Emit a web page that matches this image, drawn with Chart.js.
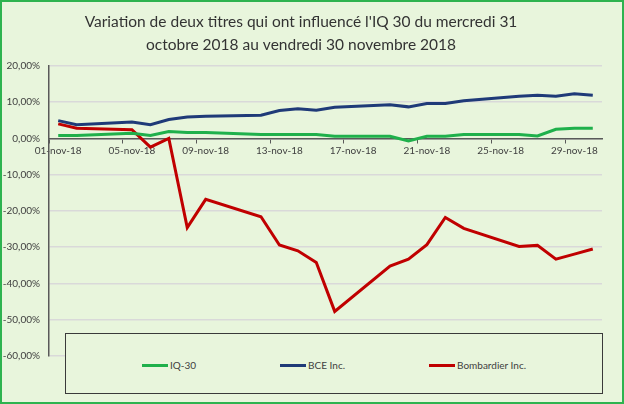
<!DOCTYPE html>
<html>
<head>
<meta charset="utf-8">
<script src="https://cdn.jsdelivr.net/npm/chart.js@4.4.1/dist/chart.umd.min.js"></script>
<style>
  html, body { margin: 0; padding: 0; background: #fff; }
  #wrap { position: relative; width: 624px; height: 404px; background: #e8f5dc; font-family: Lato, "Open Sans", sans-serif; }
  #wrap::after { content: ''; position: absolute; inset: 0; border: 2px solid #2db34f; pointer-events: none; }
  #chart { position: absolute; left: 0; top: 0; }
  #legend { position: absolute; left: 65px; top: 333px; width: 538px; height: 61px; border: 1px solid #3a3a3a;
            background: #e8f5dc; display: flex; justify-content: center; align-items: center; gap: 84px;
            font-size: 10px; color: #404040; padding-top: 3px; box-sizing: border-box; }
  #legend .item { display: flex; align-items: center; }
  #legend .swatch { width: 26px; height: 3px; margin-right: 2px; }
</style>
</head>
<body>
<div id="wrap">
  <canvas id="chart" width="624" height="404"></canvas>
  <div id="legend"></div>
</div>
<script>
// axis days (every calendar day of Nov 2018)
const days = ['01-nov-18','02-nov-18','03-nov-18','04-nov-18','05-nov-18','06-nov-18','07-nov-18','08-nov-18',
  '09-nov-18','10-nov-18','11-nov-18','12-nov-18','13-nov-18','14-nov-18','15-nov-18','16-nov-18','17-nov-18',
  '18-nov-18','19-nov-18','20-nov-18','21-nov-18','22-nov-18','23-nov-18','24-nov-18','25-nov-18','26-nov-18',
  '27-nov-18','28-nov-18','29-nov-18','30-nov-18'];

// trading days with a quote
const tradingDays = ['01-nov-18','02-nov-18','05-nov-18','06-nov-18','07-nov-18','08-nov-18','09-nov-18',
  '12-nov-18','13-nov-18','14-nov-18','15-nov-18','16-nov-18','19-nov-18','20-nov-18','21-nov-18','22-nov-18',
  '23-nov-18','26-nov-18','27-nov-18','28-nov-18','29-nov-18','30-nov-18'];

// variation (%) since 31 oct 2018
const iq30       = [0.8, 0.8, 1.4, 0.8, 1.9, 1.6, 1.6, 1.1, 1.1, 1.1, 1.1, 0.6, 0.6, -0.7, 0.6, 0.6, 1.1, 1.1, 0.7, 2.5, 2.8, 2.8];
const bce        = [4.9, 3.8, 4.5, 3.8, 5.2, 5.9, 6.1, 6.4, 7.7, 8.2, 7.8, 8.6, 9.3, 8.7, 9.6, 9.6, 10.4, 11.6, 11.9, 11.6, 12.3, 11.9];
const bombardier = [4.0, 2.8, 2.4, -2.4, 0.0, -24.6, -16.8, -21.6, -29.4, -31.0, -34.2, -47.7, -35.2, -33.3, -29.3, -21.8, -24.8, -29.8, -29.5, -33.3, -31.9, -30.5];

const yTicksMin = -60, yTicksMax = 20, yStep = 10;

const toPoints = vals => vals.map((v, i) => ({ x: tradingDays[i], y: v }));
const pct = v => v.toFixed(2).replace('.', ',') + '%';

const series = [
  { label: 'IQ-30',           data: iq30,       color: '#1fb04b' },
  { label: 'BCE Inc.',        data: bce,        color: '#1f3a78' },
  { label: 'Bombardier Inc.', data: bombardier, color: '#c00000' },
];

const chart = new Chart(document.getElementById('chart'), {
  type: 'line',
  data: {
    labels: days,
    datasets: series.map(s => ({
      label: s.label, data: toPoints(s.data),
      borderColor: s.color, backgroundColor: s.color,
      borderWidth: 3, pointRadius: 0, tension: 0
    }))
  },
  options: {
    responsive: false, animation: false,
    layout: { padding: { left: 0, right: 22, top: 0, bottom: 48 } },
    plugins: {
      legend: { display: false },
      tooltip: { enabled: false },
      title: {
        display: true,
        text: ["Variation de deux titres qui ont influencé l'IQ 30 du mercredi 31", 'octobre 2018 au vendredi 30 novembre 2018'],
        color: '#333', font: { family: 'Lato', size: 15.5, weight: 'normal', lineHeight: 1.48 },
        padding: { top: 11, bottom: 9 }
      }
    },
    scales: {
      x: {
        type: 'category', offset: true,
        position: { y: 0 },
        border: { color: '#595959', width: 1.5 },
        grid: {
          offset: true, drawOnChartArea: false, tickLength: 4,
          color: c => (c.index % 4 === 0 ? '#595959' : 'transparent')
        },
        ticks: {
          autoSkip: false, maxRotation: 0, padding: 2,
          color: '#404040', font: { family: 'Lato', size: 10 },
          callback: (v, i) => (i % 4 === 0 ? days[i] : '')
        }
      },
      y: {
        min: yTicksMin, max: yTicksMax,
        afterFit: s => { s.width = 49; },
        border: { color: '#595959', width: 1.5 },
        grid: { color: '#d9d9d9', lineWidth: 1.5, drawTicks: false },
        ticks: { stepSize: yStep, padding: 9, color: '#404040', font: { family: 'Lato', size: 10 }, callback: v => pct(v) }
      }
    }
  }
});

// legend box
const legend = document.getElementById('legend');
legend.innerHTML = chart.data.datasets.map(d =>
  `<div class="item"><span class="swatch" style="background:${d.borderColor}"></span><span>${d.label}</span></div>`).join('');
</script>
</body>
</html>
